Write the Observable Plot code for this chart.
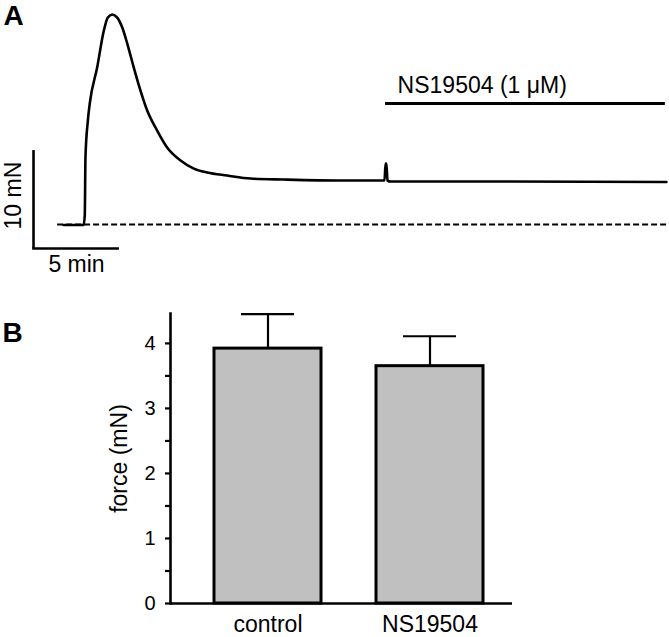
<!DOCTYPE html>
<html>
<head>
<meta charset="utf-8">
<script src="https://cdn.jsdelivr.net/npm/d3@7"></script>
<script src="https://cdn.jsdelivr.net/npm/@observablehq/plot@0.6"></script>
<style>
  html, body { margin: 0; padding: 0; background: #fff; }
  #chart { width: 669px; }
  #chart svg { display: block; }
</style>
</head>
<body>
<div id="chart"></div>
<script>
// ---------- Panel A: force trace (time in min, force in mN) ----------
const traceTime  = [1.74, 2.91, 2.98, 3.02, 3.16, 3.27, 3.70, 4.09, 4.32, 4.58, 4.87, 5.16, 5.45, 5.83, 6.22, 6.61, 7.19, 7.77, 8.55, 9.32, 10.10, 11.26, 12.62, 14.55, 17.85, 20.41, 20.47, 20.52, 20.58, 20.76, 27.15, 36.80];
const traceForce = [-0.05, -0.05, 0.92, 6.84, 10.61, 12.35, 16.02, 19.80, 21.12, 21.43, 21.12, 20.10, 18.47, 16.02, 13.67, 11.63, 9.59, 7.86, 6.53, 5.71, 5.31, 5.00, 4.69, 4.59, 4.49, 4.49, 6.22, 6.22, 4.49, 4.39, 4.39, 4.34];
const baselineSpan = [1.40, 36.98];        // dashed zero-force line, min
const drugLabel = "NS19504 (1 \u03BCM)";
const drugSpan = [20.47, 36.74];           // application period, min
const drugLevel = 12.35;                   // mN (height of the bar)
const scaleTimeMin = 5;                    // scale bar: 5 min
const scaleForceMN = 10;                   // scale bar: 10 mN
const scaleOrigin = [0, -2.45];            // [min, mN]

// ---------- Panel B: mean force ----------
const groups = ["control", "NS19504"];
const meanForce = [3.92, 3.65];
const semForce = [0.53, 0.46];
const majorTicks = [0, 1, 2, 3, 4];
const minorTicks = [0.5, 1.5, 2.5, 3.5];
const yLabel = "force (mN)";

const FONT = "'Liberation Sans', Arial, Helvetica, sans-serif";

const trace = traceTime.map((t, i) => ({t, f: traceForce[i]}));
const bars = groups.map((g, i) => ({g, m: meanForce[i], s: semForce[i], top: meanForce[i] + semForce[i]}));

const panelA = Plot.plot({
  width: 669, height: 285,
  margin: 0,
  style: {fontFamily: FONT, background: "#fff", color: "#000", overflow: "visible"},
  x: {domain: [-1.92, 36.98], range: [0, 669], axis: null},
  y: {domain: [-6.22, 22.86], range: [285, 0], axis: null},
  marks: [
    Plot.ruleY([0], {x1: baselineSpan[0], x2: baselineSpan[1], stroke: "#000", strokeWidth: 2, strokeDasharray: "6,3"}),
    Plot.line(trace, {x: "t", y: "f", curve: "monotone-x", stroke: "#000", strokeWidth: 2.6, strokeLinejoin: "round"}),
    Plot.ruleY([drugLevel], {x1: drugSpan[0], x2: drugSpan[1], stroke: "#000", strokeWidth: 3}),
    Plot.text([drugLabel], {x: drugSpan[0] + 0.7, y: drugLevel + 1.85, text: d => d, textAnchor: "start", lineAnchor: "middle", fontSize: 23, fill: "#000"}),
    Plot.ruleX([scaleOrigin[0]], {y1: scaleOrigin[1], y2: scaleOrigin[1] + scaleForceMN, stroke: "#000", strokeWidth: 2.6}),
    Plot.ruleY([scaleOrigin[1]], {x1: scaleOrigin[0] - 0.05, x2: scaleOrigin[0] + scaleTimeMin, stroke: "#000", strokeWidth: 2.6}),
    Plot.text([`${scaleForceMN} mN`], {x: scaleOrigin[0] - 1.16, y: scaleOrigin[1] + 5.4, text: d => d, rotate: -90, textAnchor: "middle", lineAnchor: "middle", fontSize: 23, fill: "#000"}),
    Plot.text([`${scaleTimeMin} min`], {x: scaleOrigin[0] + scaleTimeMin / 2, y: scaleOrigin[1] - 1.68, text: d => d, textAnchor: "middle", lineAnchor: "middle", fontSize: 23, fill: "#000"}),
    Plot.text(["A"], {frameAnchor: "top-left", dx: 13, dy: 16, text: d => d, textAnchor: "middle", lineAnchor: "middle", fontSize: 28, fontWeight: "bold", fill: "#000"})
  ]
});

const panelB = Plot.plot({
  width: 669, height: 352,
  marginLeft: 170, marginRight: 157, marginTop: 28, marginBottom: 34,
  style: {fontFamily: FONT, fontSize: "20px", background: "#fff", color: "#000", overflow: "visible"},
  x: {type: "band", domain: groups, paddingInner: 0.337, paddingOuter: 0.2176, align: 0.606, axis: null},
  y: {domain: [0, 4.46], axis: null},
  marks: [
    Plot.barY(bars, {x: "g", y: "m", fill: "#c0c0c0", stroke: "#000", strokeWidth: 3}),
    Plot.ruleX(bars, {x: "g", y1: "m", y2: "top", stroke: "#000", strokeWidth: 2.2}),
    Plot.tickY(bars, {x: "g", y: "top", stroke: "#000", strokeWidth: 2.2, inset: 27}),
    Plot.ruleY([0], {stroke: "#000", strokeWidth: 2.6}),
    Plot.frame({anchor: "left", stroke: "#000", strokeWidth: 2.6}),
    Plot.axisY({ticks: majorTicks, tickSize: 5, tickPadding: 10, tickFormat: d => String(d), fontSize: 20, strokeWidth: 2.2, label: null}),
    Plot.axisY({ticks: minorTicks, tickSize: 5, tickFormat: () => "", strokeWidth: 2.2, label: null}),
    Plot.axisX({tickSize: 0, tickPadding: 12, fontSize: 23, label: null}),
    Plot.text([yLabel], {frameAnchor: "left", dx: -51, text: d => d, rotate: -90, textAnchor: "middle", lineAnchor: "middle", fontSize: 23, fill: "#000"}),
    Plot.text(["B"], {frameAnchor: "top-left", dx: -158, dy: 20, text: d => d, textAnchor: "middle", lineAnchor: "middle", fontSize: 28, fontWeight: "bold", fill: "#000"})
  ]
});

document.getElementById("chart").append(panelA, panelB);
</script>
</body>
</html>
